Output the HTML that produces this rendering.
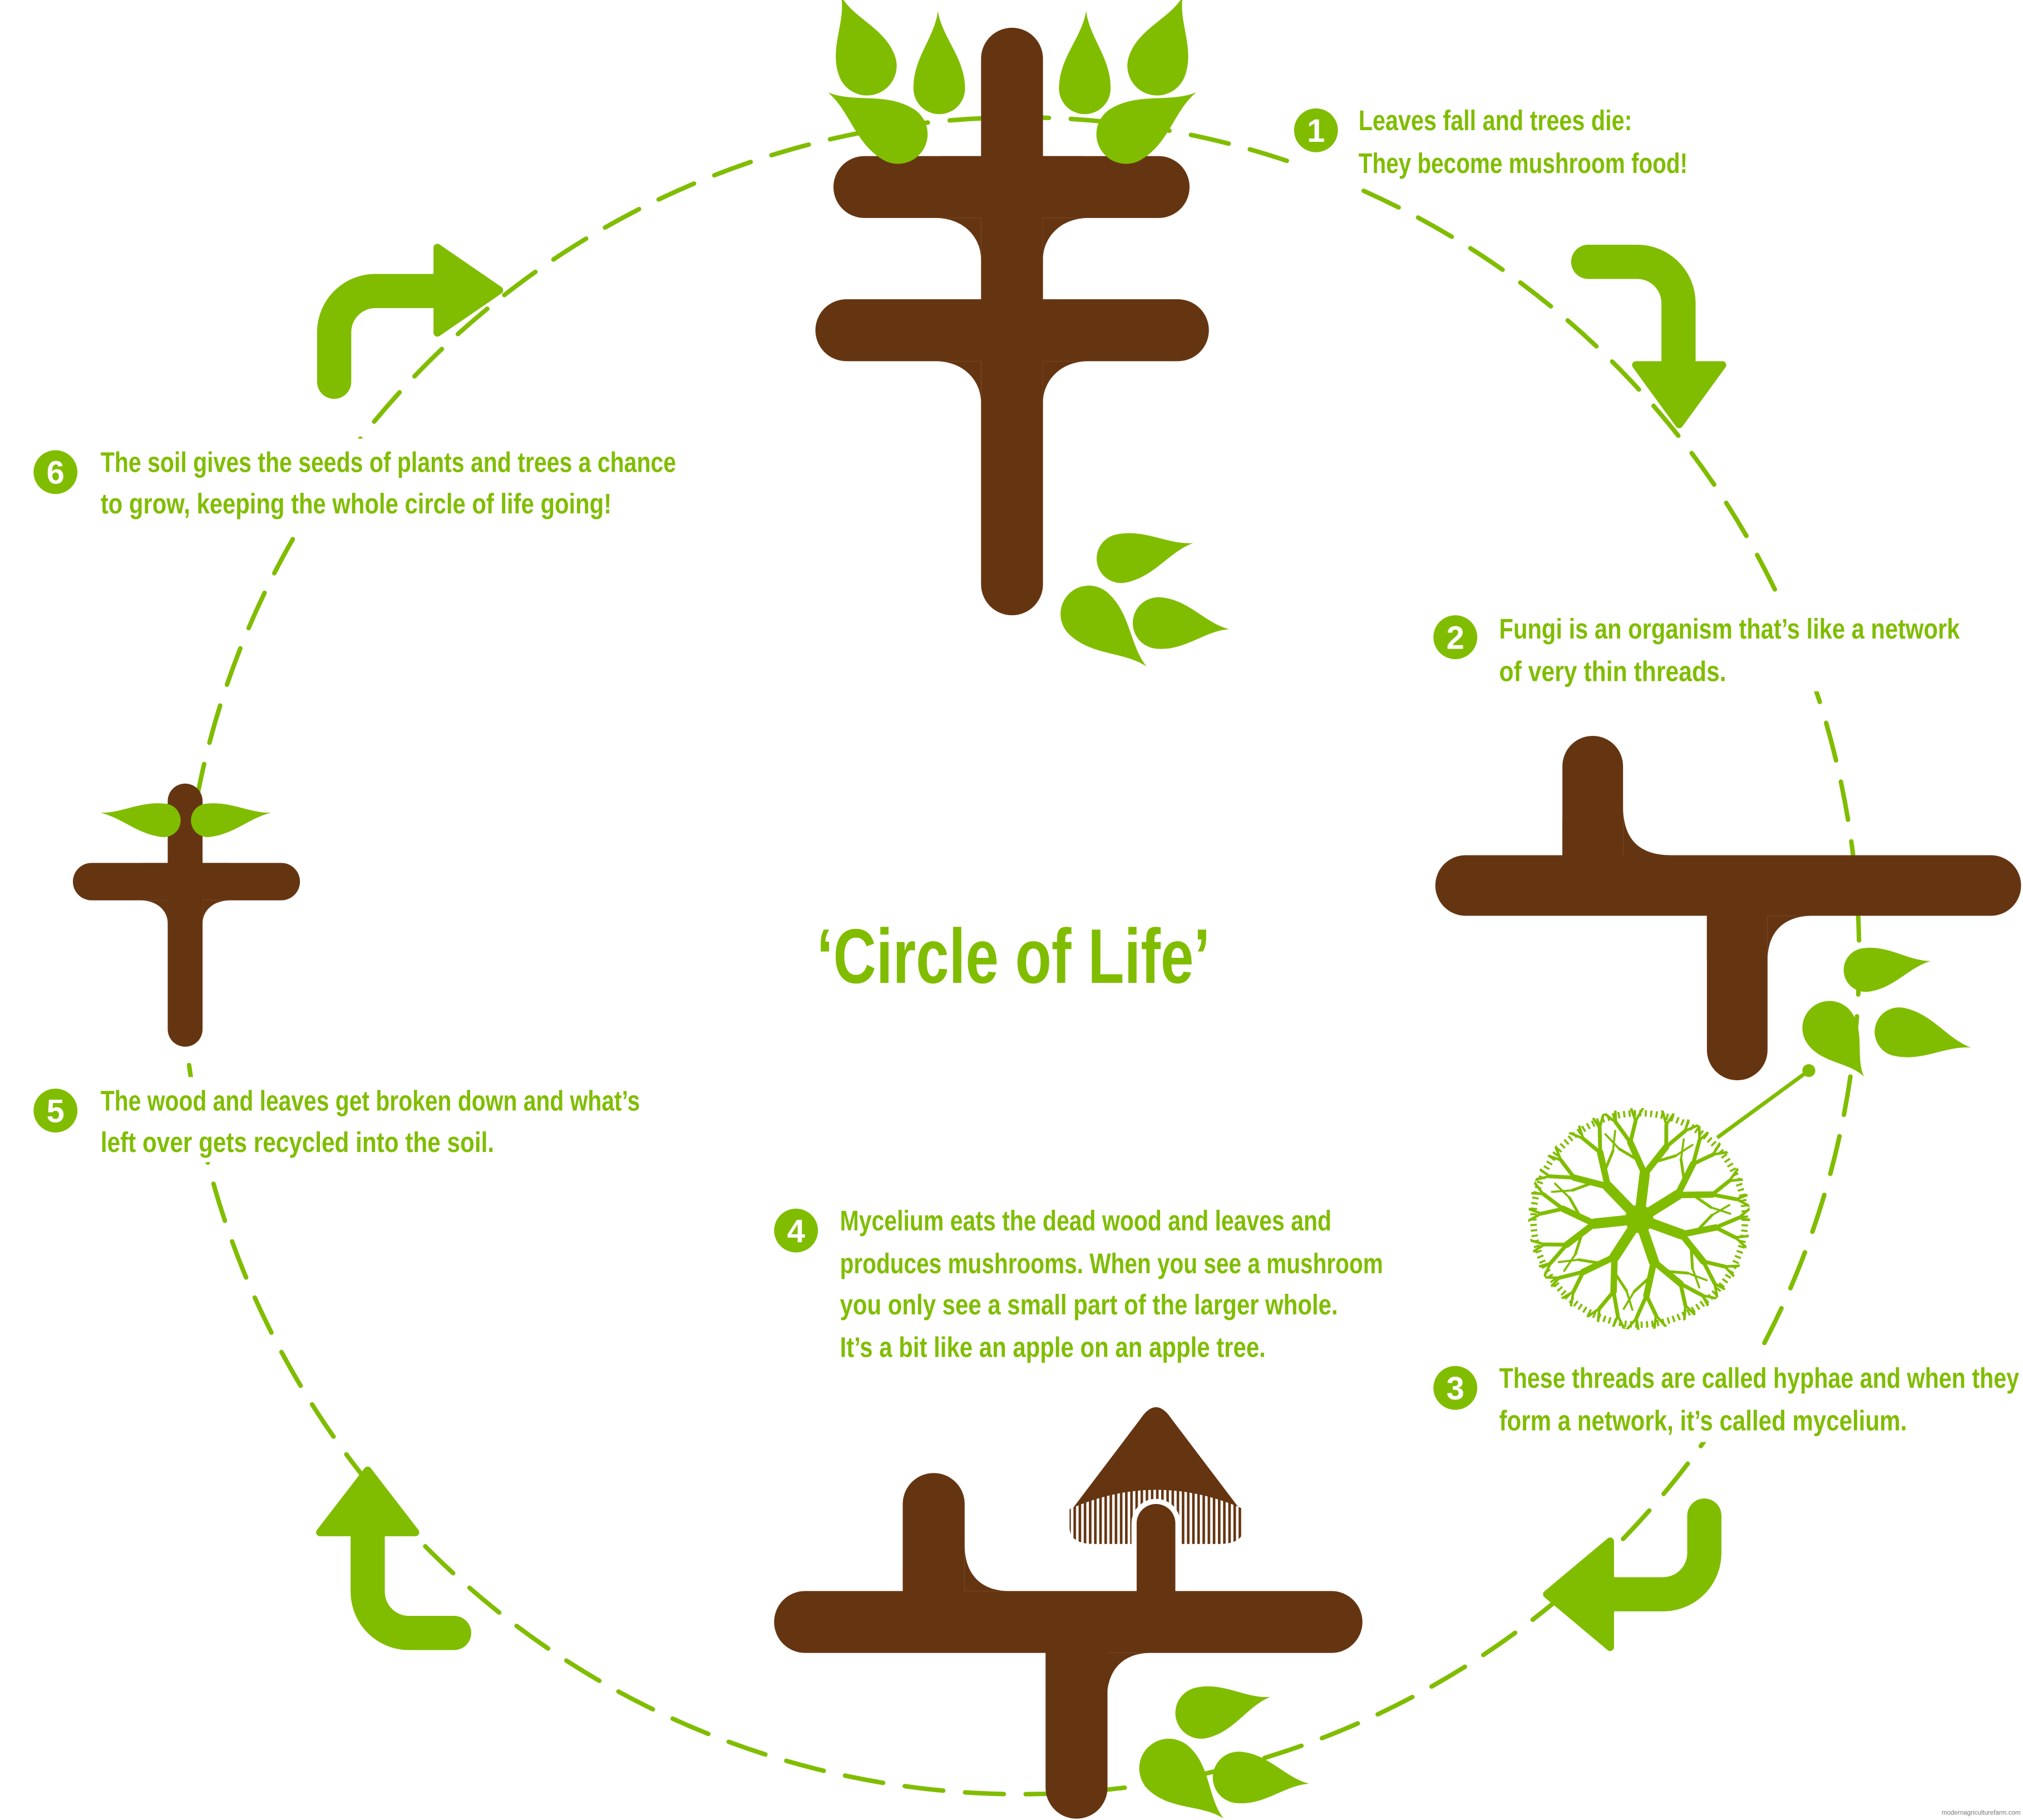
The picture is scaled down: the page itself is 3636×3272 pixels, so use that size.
<!DOCTYPE html>
<html><head><meta charset="utf-8">
<style>
html,body{margin:0;padding:0;background:#fff;}
svg{display:block;}
text{font-family:"Liberation Sans Narrow","Liberation Sans",sans-serif;font-weight:bold;fill:#80bd01;}
</style></head>
<body>
<svg width="3636" height="3272" viewBox="0 0 1568 1411" xmlns="http://www.w3.org/2000/svg" xmlns:xlink="http://www.w3.org/1999/xlink">
<defs>
<pattern id="gill" width="4" height="10" patternUnits="userSpaceOnUse">
<rect width="4" height="10" fill="#fff"/><rect width="2" height="10" fill="#653512"/>
</pattern>
<clipPath id="mycclip"><circle cx="1270.5" cy="945" r="86"/></clipPath>
<path id="k25" d="M0,-1 C1,-1 1.63,-0.15 2.5,0 C1.63,0.15 1,1 0,1 A1,1 0 0 1 0,-1Z"/>
<path id="k275" d="M0,-1 C1.1,-1 1.79,-0.15 2.75,0 C1.79,0.15 1.1,1 0,1 A1,1 0 0 1 0,-1Z"/>
<path id="k3" d="M0,-1 C1.2,-1 1.95,-0.15 3,0 C1.95,0.15 1.2,1 0,1 A1,1 0 0 1 0,-1Z"/>
<path id="k22" d="M0,-1 C0.88,-1 1.43,-0.15 2.2,0 C1.43,0.15 0.88,1 0,1 A1,1 0 0 1 0,-1Z"/>
<path id="k38" d="M0,-1 C1.5,-1 2.47,-0.15 3.8,0 C2.47,0.15 1.5,1 0,1 A1,1 0 0 1 0,-1Z"/>
<g id="br" stroke="#80bd01" stroke-linecap="round" fill="none">
<line x1="0" y1="0" x2="35" y2="0" stroke-width="8"/>
<line x1="35" y1="0" x2="58" y2="14" stroke-width="5"/>
<line x1="35" y1="0" x2="58" y2="-14" stroke-width="5"/>
<line x1="58" y1="14" x2="72" y2="27" stroke-width="3"/>
<line x1="58" y1="14" x2="75" y2="12" stroke-width="3"/>
<line x1="58" y1="-14" x2="72" y2="-27" stroke-width="3"/>
<line x1="58" y1="-14" x2="75" y2="-12" stroke-width="3"/>
<line x1="72" y1="27" x2="78" y2="37" stroke-width="2"/>
<line x1="72" y1="27" x2="83" y2="29" stroke-width="2"/>
<line x1="75" y1="12" x2="87" y2="18" stroke-width="2"/>
<line x1="75" y1="12" x2="87" y2="7" stroke-width="2"/>
<line x1="72" y1="-27" x2="78" y2="-37" stroke-width="2"/>
<line x1="72" y1="-27" x2="83" y2="-29" stroke-width="2"/>
<line x1="75" y1="-12" x2="87" y2="-18" stroke-width="2"/>
<line x1="75" y1="-12" x2="87" y2="-7" stroke-width="2"/>
<line x1="45" y1="6" x2="52" y2="22" stroke-width="2.2"/>
<line x1="45" y1="-6" x2="52" y2="-22" stroke-width="2.2"/>
<line x1="52" y1="22" x2="62" y2="34" stroke-width="1.6"/>
<line x1="52" y1="-22" x2="62" y2="-34" stroke-width="1.6"/>
</g>
</defs>
<rect width="1568" height="1411" fill="#fff"/>
<circle cx="791" cy="741" r="650" fill="none" stroke="#80bd01" stroke-width="3.5" stroke-dasharray="30 17" stroke-linecap="round"/>
<g fill="#fff">
<rect x="70" y="340" width="462" height="66"/>
<rect x="70" y="835" width="432" height="66"/>
<rect x="1152" y="468" width="374" height="68"/>
<rect x="1152" y="1050" width="416" height="68"/>
<rect x="1000" y="76" width="316" height="68"/>
</g>

<g fill="none" stroke-linecap="round">
<g stroke="#fff" stroke-width="40">
<path d="M259 296 V258 A32 32 0 0 1 291 225.6 H340"/>
<path d="M1231 203 H1269 A32 32 0 0 1 1301 235 V285"/>
<path d="M1321 1175 V1204 A32 32 0 0 1 1289 1236 H1240"/>
<path d="M352 1266 H317 A32 32 0 0 1 285 1234 V1185"/>
</g>
<g stroke="#80bd01" stroke-width="26.5">
<path d="M259 296 V258 A32 32 0 0 1 291 225.6 H340"/>
<path d="M1231 203 H1269 A32 32 0 0 1 1301 235 V285"/>
<path d="M1321 1175 V1204 A32 32 0 0 1 1289 1236 H1240"/>
<path d="M352 1266 H317 A32 32 0 0 1 285 1234 V1185"/>
</g>
</g>
<g fill="#80bd01" stroke="#80bd01" stroke-width="6" stroke-linejoin="round">
<polygon points="339,192 339,258 387,225"/>
<polygon points="1268,283 1335,283 1301.5,329"/>
<polygon points="1248,1195 1248,1277 1199,1236"/>
<polygon points="248,1188 322,1188 285,1140"/>
</g>

<g stroke="#653512" stroke-linecap="round" fill="none" stroke-width="48">
<line x1="784.4" y1="45.5" x2="784.4" y2="453"/>
<line x1="670" y1="145" x2="898" y2="145"/>
<line x1="656" y1="256" x2="913" y2="256"/>
<line x1="1136" y1="686.5" x2="1543" y2="686.5" stroke-width="47"/>
<line x1="1234.5" y1="594" x2="1234.5" y2="670" stroke-width="47"/>
<line x1="1346.5" y1="700" x2="1346.5" y2="814" stroke-width="47"/>
<line x1="624" y1="1257.5" x2="1032" y2="1257.5"/>
<line x1="723.7" y1="1166" x2="723.7" y2="1240"/>
<line x1="834.4" y1="1270" x2="834.4" y2="1386"/>
<line x1="143.5" y1="621" x2="143.5" y2="798" stroke-width="27"/>
<line x1="71" y1="683.5" x2="218" y2="683.5" stroke-width="29"/>
</g>
<g fill="#653512">
<path d="M724.7 169 C748 169 760.4 185 760.4 201 L760.4 169 Z"/>
<path d="M844 169 C821 169 808.4 185 808.4 201 L808.4 169 Z"/>
<path d="M760.4 129 C750 124 740 121 724.7 121 L760.4 121 Z"/>
<path d="M808.4 129 C818 124 828 121 844 121 L808.4 121 Z"/>
<path d="M724.7 280 C748 280 760.4 296 760.4 312 L760.4 280 Z"/>
<path d="M844 280 C821 280 808.4 296 808.4 312 L808.4 280 Z"/>
<path d="M760.4 240 C750 235 740 232 724.7 232 L760.4 232 Z"/>
<path d="M808.4 240 C818 235 828 232 844 232 L808.4 232 Z"/>
<path d="M1258 625 C1258 650 1270 663 1295 663 L1258 663 Z"/>
<path d="M1211 635 Q1212 652 1217 663 L1211 663 Z"/>
<path d="M1370 745 C1370 722 1383 710 1405 710 L1370 710 Z"/>
<path d="M1323 745 Q1324 724 1330 710 L1323 710 Z"/>
<path d="M747.7 1198 C747.7 1220 760 1233.5 782 1233.5 L747.7 1233.5 Z"/>
<path d="M699.7 1198 Q700 1220 707.7 1233.5 L699.7 1233.5 Z"/>
<path d="M858 1317 C858 1295 870 1281.5 892 1281.5 L858 1281.5 Z"/>
<path d="M810.6 1317 Q812 1295 818 1281.5 L810.6 1281.5 Z"/>
<path d="M108 698 C122 698 130 706 130 716 L130 698 Z"/>
<path d="M179 698 C165 698 157 706 157 716 L157 698 Z"/>
<path d="M130 676 C124 671 118 669 108 669 L130 669 Z"/>
<path d="M157 676 C163 671 169 669 179 669 L157 669 Z"/>
<path d="M831 1170 L884 1100 Q896 1082 908 1100 L961 1170 Q896 1146 831 1170 Z"/>
</g>
<path d="M829 1170 Q896 1140 964 1170 L964 1184 Q964 1197 945 1197 L848 1197 Q829 1197 829 1184 Z" fill="url(#gill)"/>
<line x1="896" y1="1181" x2="896" y2="1196" stroke="#fff" stroke-width="38" stroke-linecap="round"/>
<line x1="896" y1="1181" x2="896" y2="1240" stroke="#653512" stroke-width="30" stroke-linecap="round"/>

<g fill="#80bd01">
<use xlink:href="#k25" transform="translate(672,51) rotate(-110.4) scale(23)"/>
<use xlink:href="#k3" transform="translate(728,68.5) rotate(-91) scale(20)"/>
<use xlink:href="#k275" transform="translate(696,104) rotate(-149.2) scale(23)"/>
<use xlink:href="#k25" transform="translate(896.8,51) rotate(-69.6) scale(23)"/>
<use xlink:href="#k3" transform="translate(840.8,68.5) rotate(-89) scale(20)"/>
<use xlink:href="#k275" transform="translate(872.8,104) rotate(-30.8) scale(23)"/>
<use xlink:href="#k3" transform="translate(869,433) rotate(-12.1) scale(19)"/>
<use xlink:href="#k275" transform="translate(844,476) rotate(42.3) scale(22)"/>
<use xlink:href="#k275" transform="translate(898,483) rotate(5) scale(20)"/>
<use xlink:href="#k3" transform="translate(1446,752) rotate(-7.8) scale(17)"/>
<use xlink:href="#k22" transform="translate(1418,797) rotate(54.6) scale(21)"/>
<use xlink:href="#k3" transform="translate(1472,800) rotate(12.3) scale(19)"/>
<use xlink:href="#k275" transform="translate(931,1328) rotate(-13) scale(20)"/>
<use xlink:href="#k25" transform="translate(906,1371) rotate(42.5) scale(23)"/>
<use xlink:href="#k275" transform="translate(960,1378) rotate(5.1) scale(20)"/>
<use xlink:href="#k38" transform="translate(127,636) rotate(-173.2) scale(13)"/>
<use xlink:href="#k38" transform="translate(161,636) rotate(-6.8) scale(13)"/>
</g>

<g clip-path="url(#mycclip)">
<use xlink:href="#br" transform="translate(1270.5,945) rotate(20)"/>
<use xlink:href="#br" transform="translate(1270.5,945) rotate(71)"/>
<use xlink:href="#br" transform="translate(1270.5,945) rotate(123)"/>
<use xlink:href="#br" transform="translate(1270.5,945) rotate(174)"/>
<use xlink:href="#br" transform="translate(1270.5,945) rotate(226)"/>
<use xlink:href="#br" transform="translate(1270.5,945) rotate(277)"/>
<use xlink:href="#br" transform="translate(1270.5,945) rotate(328)"/>
<circle cx="1270.5" cy="945" r="82" fill="none" stroke="#80bd01" stroke-width="5" stroke-dasharray="1.6 2.6"/>
<circle cx="1270.5" cy="945" r="11" fill="#80bd01"/>
</g>
<line x1="1331" y1="882" x2="1402" y2="830" stroke="#80bd01" stroke-width="3"/>
<circle cx="1402" cy="830" r="5" fill="#80bd01"/>

<g fill="#80bd01">
<circle cx="1020" cy="101" r="17"/>
<circle cx="1128" cy="494" r="17"/>
<circle cx="1128" cy="1076" r="17"/>
<circle cx="617" cy="954" r="17"/>
<circle cx="43" cy="861" r="17"/>
<circle cx="43" cy="366" r="17"/>
</g>
<g font-size="25" text-anchor="middle">
<text x="1020" y="110" style="fill:#fff">1</text>
<text x="1128" y="503" style="fill:#fff">2</text>
<text x="1128" y="1085" style="fill:#fff">3</text>
<text x="617" y="963" style="fill:#fff">4</text>
<text x="43" y="870" style="fill:#fff">5</text>
<text x="43" y="375" style="fill:#fff">6</text>
</g>

<g font-size="22">
<text x="1053" y="101" textLength="212" lengthAdjust="spacingAndGlyphs">Leaves fall and trees die:</text>
<text x="1053" y="134" textLength="255" lengthAdjust="spacingAndGlyphs">They become mushroom food!</text>
<text x="1162" y="495" textLength="357" lengthAdjust="spacingAndGlyphs">Fungi is an organism that’s like a network</text>
<text x="1162" y="528" textLength="176" lengthAdjust="spacingAndGlyphs">of very thin threads.</text>
<text x="1162" y="1076" textLength="403" lengthAdjust="spacingAndGlyphs">These threads are called hyphae and when they</text>
<text x="1162" y="1109" textLength="316" lengthAdjust="spacingAndGlyphs">form a network, it’s called mycelium.</text>
<text x="651" y="954" textLength="381" lengthAdjust="spacingAndGlyphs">Mycelium eats the dead wood and leaves and</text>
<text x="651" y="987" textLength="421" lengthAdjust="spacingAndGlyphs">produces mushrooms. When you see a mushroom</text>
<text x="651" y="1019" textLength="386" lengthAdjust="spacingAndGlyphs">you only see a small part of the larger whole.</text>
<text x="651" y="1052" textLength="330" lengthAdjust="spacingAndGlyphs">It’s a bit like an apple on an apple tree.</text>
<text x="78" y="861" textLength="418" lengthAdjust="spacingAndGlyphs">The wood and leaves get broken down and what’s</text>
<text x="78" y="893" textLength="305" lengthAdjust="spacingAndGlyphs">left over gets recycled into the soil.</text>
<text x="78" y="366" textLength="446" lengthAdjust="spacingAndGlyphs">The soil gives the seeds of plants and trees a chance</text>
<text x="78" y="398" textLength="396" lengthAdjust="spacingAndGlyphs">to grow, keeping the whole circle of life going!</text>
</g>
<text x="633" y="762" font-size="60" textLength="305" lengthAdjust="spacingAndGlyphs">‘Circle of Life’</text>
<text x="1505" y="1407" font-size="5" style="fill:#777;font-weight:normal">modernagriculturefarm.com</text>
</svg>
</body></html>
